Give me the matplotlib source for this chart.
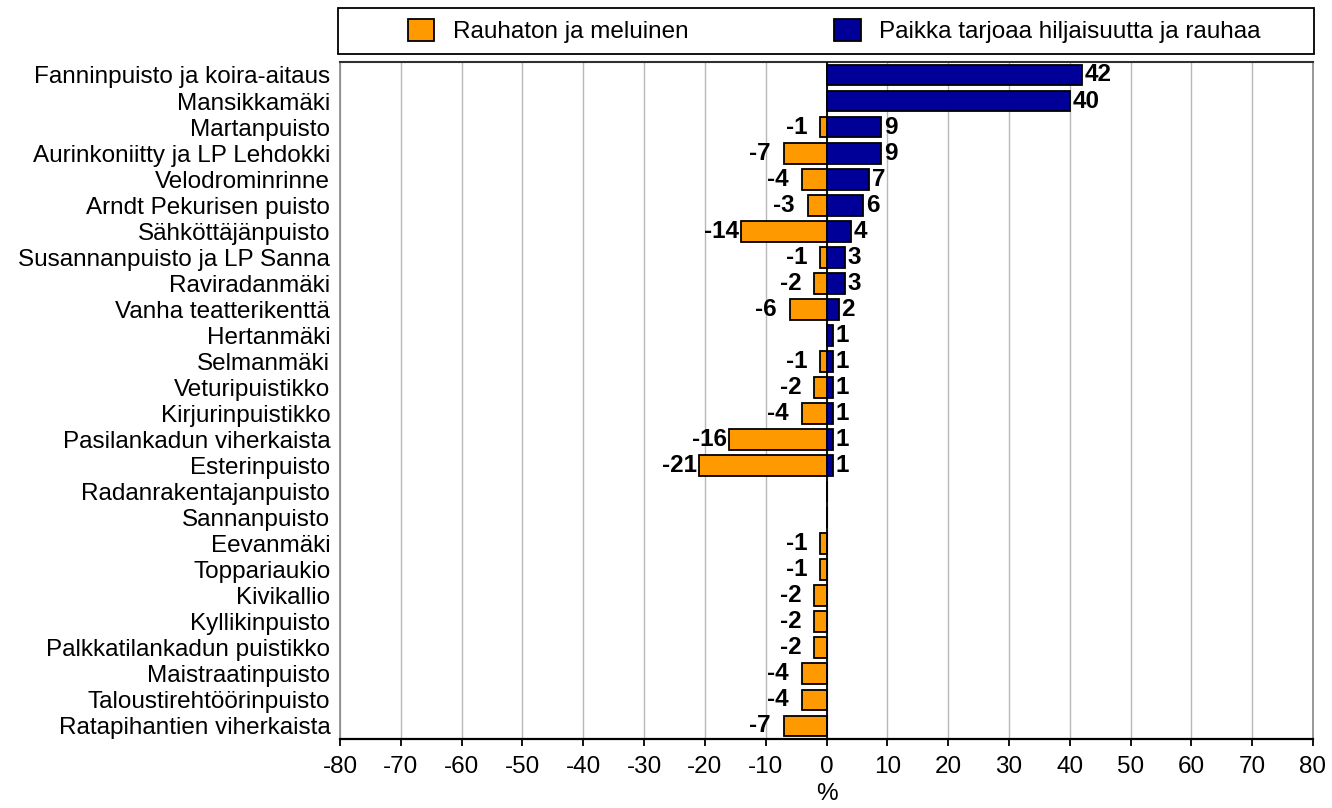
import matplotlib.pyplot as plt
from matplotlib.patches import Rectangle
import numpy as np

plt.rcParams['font.family'] = ['Liberation Sans', 'DejaVu Sans']
plt.rcParams['axes.unicode_minus'] = False

parks = ["Fanninpuisto ja koira-aitaus", "Mansikkamäki", "Martanpuisto",
         "Aurinkoniitty ja LP Lehdokki", "Velodrominrinne", "Arndt Pekurisen puisto",
         "Sähköttäjänpuisto", "Susannanpuisto ja LP Sanna", "Raviradanmäki",
         "Vanha teatterikenttä", "Hertanmäki", "Selmanmäki", "Veturipuistikko",
         "Kirjurinpuistikko", "Pasilankadun viherkaista", "Esterinpuisto",
         "Radanrakentajanpuisto", "Sannanpuisto", "Eevanmäki", "Toppariaukio",
         "Kivikallio", "Kyllikinpuisto", "Palkkatilankadun puistikko",
         "Maistraatinpuisto", "Taloustirehtöörinpuisto", "Ratapihantien viherkaista"]
noisy = [0, 0, -1, -7, -4, -3, -14, -1, -2, -6, 0, -1, -2, -4, -16, -21,
         0, 0, -1, -1, -2, -2, -2, -4, -4, -7]
quiet = [42, 40, 9, 9, 7, 6, 4, 3, 3, 2, 1, 1, 1, 1, 1, 1,
         0, 0, 0, 0, 0, 0, 0, 0, 0, 0]
labels = ["Rauhaton ja meluinen", "Paikka tarjoaa hiljaisuutta ja rauhaa"]

orange = "#FF9900"
navy = "#000099"
fs = 17.5

fig = plt.figure(figsize=(13.32, 8.08), dpi=100)
ax = fig.add_axes([0.2553, 0.0854, 0.7304, 0.8379])

y = np.arange(len(parks))
h = 0.8
b1 = ax.barh(y, noisy, height=h, color=orange, edgecolor="black", linewidth=1.3, zorder=3)
b2 = ax.barh(y, quiet, height=h, color=navy, edgecolor="black", linewidth=1.3, zorder=3)

# value labels: one-digit negatives sit a bit further from the bar
for i, v in enumerate(noisy):
    if v != 0:
        gap = -9.5 if v > -10 else -1.5
        ax.annotate(str(v), (v, i), xytext=(gap, 0), textcoords="offset points",
                    ha="right", va="center", fontsize=fs,
                    fontweight="bold", zorder=4)
for i, v in enumerate(quiet):
    if v != 0:
        ax.annotate(str(v), (v, i), xytext=(2, 0), textcoords="offset points",
                    ha="left", va="center", fontsize=fs,
                    fontweight="bold", zorder=4)

ax.axvline(0, color="black", linewidth=1.3, zorder=4)
ax.set_xlim(-80, 80)
ax.set_ylim(len(parks) - 0.5, -0.5)
ax.set_xticks(np.arange(-80, 81, 10))
ax.tick_params(axis="x", labelsize=fs, length=5, width=1.3, direction="out", pad=7)
ax.tick_params(axis="y", labelsize=fs, length=0, pad=7)
ax.set_yticks(y)
ax.set_yticklabels(parks)
ax.set_xlabel("%", fontsize=fs, labelpad=4)
ax.xaxis.grid(True, color="#b8b8b8", linewidth=1.0, zorder=0)
ax.set_axisbelow(True)
for s in ["left", "right"]:
    ax.spines[s].set_color("#909090")
    ax.spines[s].set_linewidth(1.3)
ax.spines["top"].set_color("#303030")
ax.spines["top"].set_linewidth(1.5)
ax.spines["bottom"].set_linewidth(1.6)

# legend frame spanning the plot width
fig.patches.append(Rectangle((0.2538, 0.9332), 0.7327, 0.057, transform=fig.transFigure,
                             facecolor="white", edgecolor="black", linewidth=1.3))
leg = fig.legend([b1, b2], labels, loc="center",
                 bbox_to_anchor=(0.2538 + 0.7327 / 2 + 0.006, 0.9332 + 0.057 / 2),
                 ncol=2, fontsize=fs, frameon=False,
                 handlelength=1.1, handleheight=1.07, handletextpad=0.75,
                 borderaxespad=0, columnspacing=6.0)

fig.savefig("out.png", dpi=100)
